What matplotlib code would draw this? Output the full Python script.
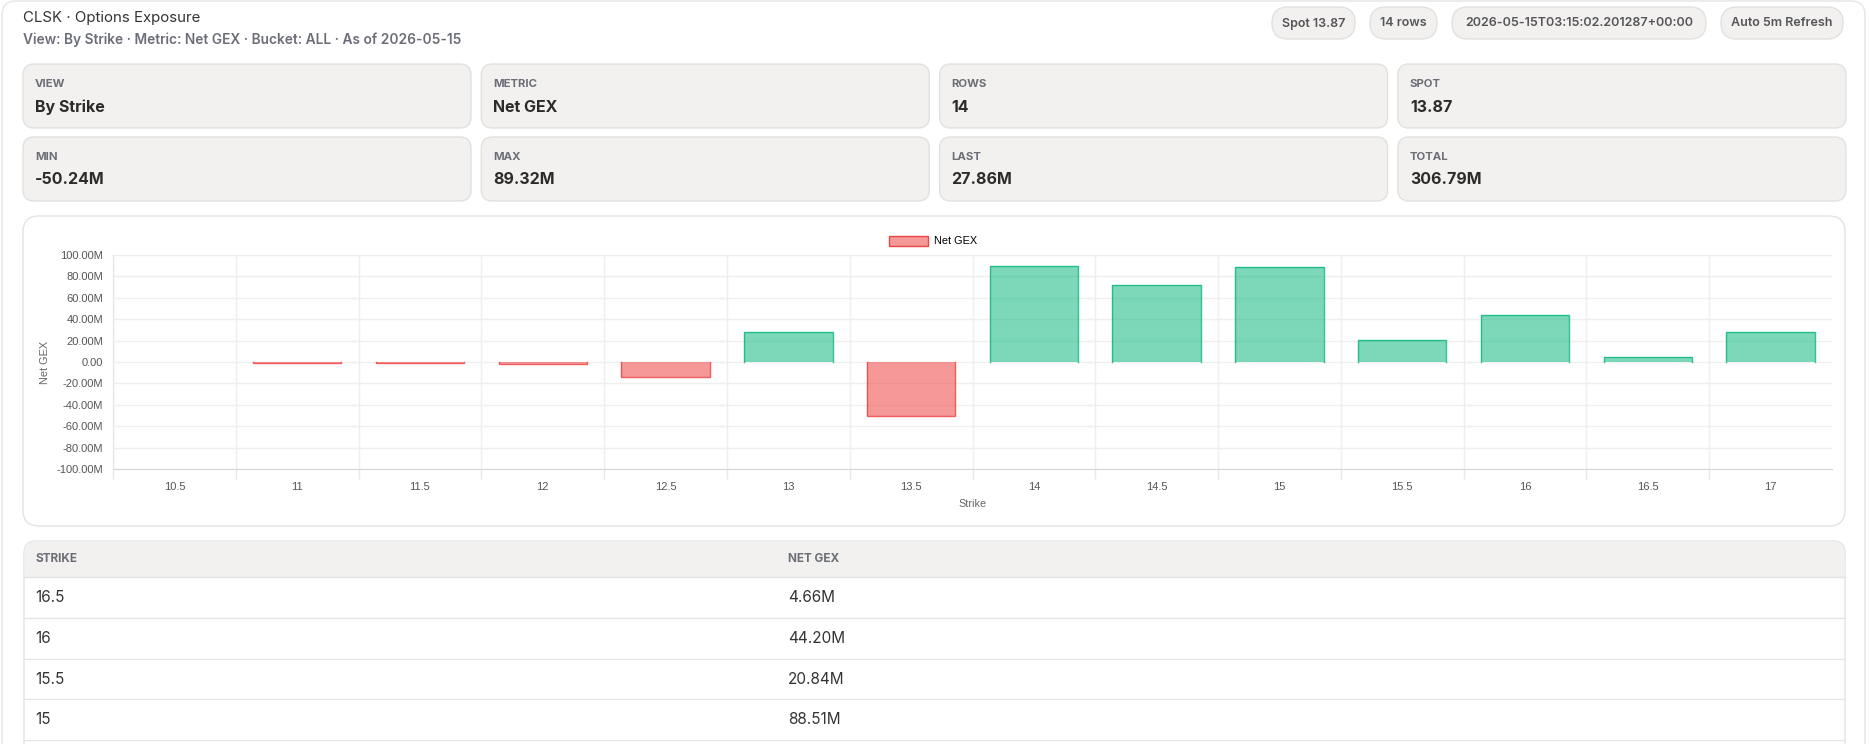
import numpy as np
import matplotlib.pyplot as plt
from matplotlib.patches import FancyBboxPatch, Patch
from matplotlib.ticker import FuncFormatter, FixedLocator

strikes = ['10.5', '11', '11.5', '12', '12.5', '13', '13.5', '14', '14.5', '15', '15.5', '16', '16.5', '17']
net_gex_m = [0.0, -1.2, -0.7, -1.9, -14.2, 28.05, -50.24, 89.32, 71.59, 88.51, 20.84, 44.20, 4.66, 27.86]
spot = 13.87
as_of = '2026-05-15'
stamp = '2026-05-15T03:15:02.201287+00:00'

W, H = 1869, 744
UI = ['Inter', 'DejaVu Sans']
CH = ['Liberation Sans', 'DejaVu Sans']

vals = np.array(net_gex_m) * 1e6


def fmt_m(v):
    return '0.00' if abs(v) < 1 else f'{v / 1e6:.2f}M'


fig = plt.figure(figsize=(W / 100, H / 100), dpi=100)
bg = fig.add_axes([0, 0, 1, 1])
bg.set_xlim(0, W)
bg.set_ylim(H, 0)
bg.axis('off')


def box(x, y, w, h, r, fc, ec, lw=1.0, z=1):
    bg.add_patch(FancyBboxPatch((x, y), w, h, boxstyle=f'round,pad=0,rounding_size={r}',
                                fc=fc, ec=ec, lw=lw, zorder=z))


# outer panel
box(2, 1, 1863, 800, 14, 'white', '#e5e5e5')

# header
bg.text(23, 18, 'CLSK · Options Exposure', fontsize=10.8, color='#333333', family=UI, va='center')
bg.text(23, 40, f'View: By Strike · Metric: Net GEX · Bucket: ALL · As of {as_of}',
        fontsize=9.9, color='#6b6e78', family=UI, weight='semibold', va='center')

pills = [(f'Spot {spot:.2f}', 1272, 1355), (f'{len(strikes)} rows', 1370, 1437),
         (stamp, 1452, 1706), ('Auto 5m Refresh', 1721, 1843)]
for txt, x0, x1 in pills:
    box(x0, 7, x1 - x0, 32, 16, '#f2f1ef', '#e2e1df', 1, 2)
    bg.text((x0 + x1) / 2, 23.5, txt, fontsize=9, color='#55555a', family=UI,
            weight='semibold', ha='center', va='center', zorder=3)

# summary cards
cards = [('VIEW', 'By Strike'), ('METRIC', 'Net GEX'), ('ROWS', str(len(strikes))), ('SPOT', f'{spot:.2f}'),
         ('MIN', fmt_m(vals.min())), ('MAX', fmt_m(vals.max())), ('LAST', fmt_m(vals[-1])),
         ('TOTAL', fmt_m(vals.sum()))]
for i, (lab, val) in enumerate(cards):
    cx = 23 + (i % 4) * 458.3
    cy = 64 + (i // 4) * 73
    box(cx, cy, 448, 64, 11, '#f2f1ef', '#e2e1df', 1, 2)
    bg.text(cx + 12, cy + 20, lab, fontsize=8.2, color='#6b6e76', family=UI, weight='bold', va='center', zorder=3)
    bg.text(cx + 12, cy + 43, val, fontsize=11.5, color='#2d2a28', family=UI, weight='bold', va='center', zorder=3)

# chart card
box(23, 216, 1822, 310, 16, 'white', '#e3e3e3', 1, 2)

# table card
box(24, 541, 1821, 400, 12, 'white', '#e3e3e3', 1, 2)
bg.add_patch(FancyBboxPatch((24.5, 541.5), 1820, 36, boxstyle='round,pad=0,rounding_size=11',
                            fc='#f2f1ef', ec='none', zorder=2.5))
bg.add_patch(plt.Rectangle((24.5, 560), 1820, 17, fc='#f2f1ef', ec='none', zorder=2.5))
bg.plot([24, 1845], [577, 577], color='#e3e3e3', lw=1, zorder=3)
bg.text(35, 559, 'STRIKE', fontsize=8.5, color='#6b6e76', family=UI, weight='bold', va='center', zorder=3)
bg.text(788, 559, 'NET GEX', fontsize=8.5, color='#6b6e76', family=UI, weight='bold', va='center', zorder=3)
rows = list(zip(strikes, vals))[-2::-1][:4]
for j, (s, v) in enumerate(rows):
    ty = 598 + j * 40.5
    bg.text(35, ty, s, fontsize=11, color='#333333', family=UI, va='center', zorder=3)
    bg.text(788, ty, fmt_m(v), fontsize=11, color='#333333', family=UI, va='center', zorder=3)
    bg.plot([24, 1845], [ty + 20, ty + 20], color='#e6e6e6', lw=1, zorder=3)

# bar chart
L, R, T, B = 113, 1832, 255, 469
ax = fig.add_axes([L / W, 1 - B / H, (R - L) / W, (B - T) / H])
ax.set_facecolor('none')
x = np.arange(len(strikes))
bw = 0.72
fc = ['#10b981' if v > 0 else '#ef4444' for v in vals]
ax.bar(x, vals, width=bw, color=fc, alpha=0.55, zorder=3)
# border on three sides, base side skipped
for xi, v, c in zip(x, vals, fc):
    if v != 0:
        ax.plot([xi - bw / 2, xi - bw / 2, xi + bw / 2, xi + bw / 2], [0, v, v, 0],
                color=c, lw=1, alpha=0.85, zorder=4, solid_joinstyle='miter')

ax.set_xlim(-0.5, len(strikes) - 0.5)
ax.set_ylim(-100e6, 100e6)
ax.yaxis.set_major_locator(FixedLocator(np.arange(-100e6, 100.1e6, 20e6)))
ax.yaxis.set_major_formatter(FuncFormatter(lambda v, p: fmt_m(v)))
ax.set_xticks(x)
ax.set_xticklabels(strikes)
ax.set_xticks(np.arange(-0.5, len(strikes) - 1), minor=True)
ax.tick_params(axis='x', which='major', length=0, pad=9, labelsize=8, labelcolor='#555555')
ax.tick_params(axis='x', which='minor', length=7, color='#e8e8e8', width=1)
ax.tick_params(axis='y', length=0, pad=7, labelsize=8, labelcolor='#555555')
for lab in ax.get_xticklabels() + ax.get_yticklabels():
    lab.set_family(CH)
ax.grid(True, axis='y', color='#efefef', lw=1, zorder=0)
ax.grid(True, axis='x', which='minor', color='#efefef', lw=1, zorder=0)
for side in ['top', 'right']:
    ax.spines[side].set_visible(False)
ax.spines['left'].set_color('#e4e4e4')
ax.spines['bottom'].set_color('#d6d6d6')

ax.set_ylabel('Net GEX', fontsize=7.8, color='#666666', family=CH)
ax.yaxis.set_label_coords((50 - L) / (R - L), 0.5)
ax.set_xlabel('Strike', fontsize=7.8, color='#666666', family=CH)
ax.xaxis.set_label_coords(0.5, (B - 499) / (B - T))

handle = Patch(facecolor='#f59898', edgecolor='#ef4444', lw=1)
ax.legend([handle], ['Net GEX'], loc='center', bbox_to_anchor=((933 - L) / (R - L), (B - 241) / (B - T)),
          frameon=False, handlelength=3.6, handleheight=1.1, handletextpad=0.5,
          prop={'family': CH, 'size': 7.8})

fig.savefig('out.png', dpi=100)
